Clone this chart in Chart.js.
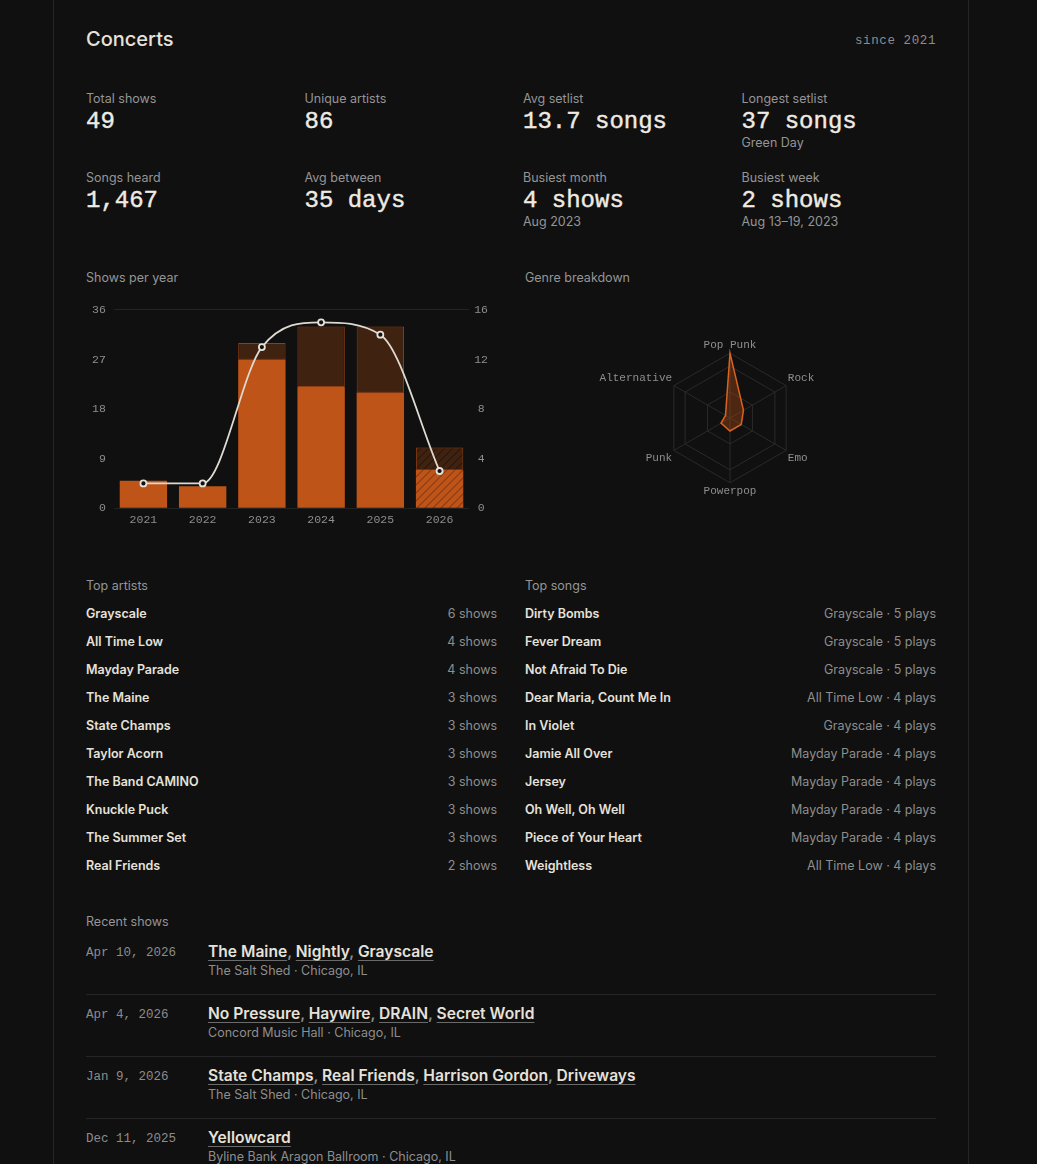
<!DOCTYPE html>
<html lang="en">
<head>
    <meta charset="UTF-8">
    <title>Concerts</title>
    <style>
        body { margin: 0; background: #101010; color: #e6e2da; font-family: Inter, "Noto Sans", sans-serif; }
        .page { margin-left: 53px; width: 850px; padding: 0 32px; border-left: 1px solid #252525; border-right: 1px solid #252525; min-height: 1164px; box-sizing: content-box; }
        .mono { font-family: "Liberation Mono", "DejaVu Sans Mono", monospace; }
        header { display: flex; justify-content: space-between; align-items: center; padding-top: 28px; height: 22px; }
        header h1 { margin: 0; font-size: 20px; font-weight: 500; line-height: 22px; }
        header .since { font-size: 12.5px; letter-spacing: 0.6px; color: #8c8c8c; position: relative; top: 2px; }
        .stats { display: grid; grid-template-columns: repeat(4, 1fr); column-gap: 24px; row-gap: 19px; margin-top: 41px; }
        .stat .lbl { font-size: 12.5px; line-height: 16px; color: #959595; }
        .stat .val { font-size: 24px; line-height: 28px; color: #efebe3; position: relative; top: 1px; -webkit-text-stroke: 0.4px #efebe3; }
        .stat .sub { font-size: 12.5px; line-height: 16px; color: #959595; }
        .two { display: grid; grid-template-columns: 411px 411px; column-gap: 28px; }
        .sec { font-size: 12.5px; line-height: 16px; color: #959595; }
        .charts { margin-top: 40px; }
        .box { position: relative; height: 237px; margin-top: 9px; }
        .box.bars { margin-left: -8px; }
        .lists { margin-top: 46px; }
        .lists .sec { margin-bottom: 6px; }
        .row { display: flex; justify-content: space-between; height: 28px; line-height: 28px; font-size: 12.5px; }
        .row .name { font-weight: 600; color: #e6e2da; }
        .row .meta { color: #8e8e8e; }
        .recent { margin-top: 34px; }
        .recent .sec { margin-bottom: 3px; }
        .show { display: flex; padding: 9px 0 15px; border-bottom: 1px solid #262626; }
        .show:last-child { border-bottom: none; }
        .show .date { width: 122px; font-size: 12.5px; line-height: 22px; color: #8c8c8c; }
        .show .acts { font-size: 15.6px; font-weight: 600; line-height: 20px; color: #8c8c8c; }
        .show .acts span { color: #e6e2da; text-decoration: underline; text-decoration-color: #6a6a6a; text-underline-offset: 3px; text-decoration-thickness: 1px; }
        .show .venue { font-size: 12.5px; line-height: 17px; color: #8e8e8e; }
    </style>
    <script src="https://cdn.jsdelivr.net/npm/chart.js"></script>
</head>
<body>
<div class="page">
    <header>
        <h1>Concerts</h1>
        <span class="since mono">since 2021</span>
    </header>

    <div class="stats" id="stats"></div>

    <div class="two charts">
        <div>
            <div class="sec">Shows per year</div>
            <div class="box bars"><canvas id="graficoAnos"></canvas></div>
        </div>
        <div>
            <div class="sec">Genre breakdown</div>
            <div class="box"><canvas id="graficoGeneros"></canvas></div>
        </div>
    </div>

    <div class="two lists">
        <div id="topArtists"><div class="sec">Top artists</div></div>
        <div id="topSongs"><div class="sec">Top songs</div></div>
    </div>

    <div class="recent" id="recent">
        <div class="sec">Recent shows</div>
    </div>
</div>

<script>
    // dados do gráfico de barras
    const years = ['2021', '2022', '2023', '2024', '2025', '2026'];
    const newArtists = [5, 4, 27, 22, 21, 7];
    const returningArtists = [0, 0, 3, 11, 12, 4];
    const showsPerYear = [2, 2, 13, 15, 14, 3];

    // dados do radar
    const genres = ['Pop Punk', 'Rock', 'Emo', 'Powerpop', 'Punk', 'Alternative'];
    const genreCounts = [25, 6, 5, 5, 4, 2];

    const statLabels = ['Total shows', 'Unique artists', 'Avg setlist', 'Longest setlist',
                        'Songs heard', 'Avg between', 'Busiest month', 'Busiest week'];
    const statValues = ['49', '86', '13.7 songs', '37 songs', '1,467', '35 days', '4 shows', '2 shows'];
    const statSubs = ['', '', '', 'Green Day', '', '', 'Aug 2023', 'Aug 13–19, 2023'];

    const artistNames = ['Grayscale', 'All Time Low', 'Mayday Parade', 'The Maine', 'State Champs',
                         'Taylor Acorn', 'The Band CAMINO', 'Knuckle Puck', 'The Summer Set', 'Real Friends'];
    const artistShows = [6, 4, 4, 3, 3, 3, 3, 3, 3, 2];

    const songNames = ['Dirty Bombs', 'Fever Dream', 'Not Afraid To Die', 'Dear Maria, Count Me In', 'In Violet',
                       'Jamie All Over', 'Jersey', 'Oh Well, Oh Well', 'Piece of Your Heart', 'Weightless'];
    const songArtists = ['Grayscale', 'Grayscale', 'Grayscale', 'All Time Low', 'Grayscale',
                         'Mayday Parade', 'Mayday Parade', 'Mayday Parade', 'Mayday Parade', 'All Time Low'];
    const songPlays = [5, 5, 5, 4, 4, 4, 4, 4, 4, 4];

    const showDates = ['Apr 10, 2026', 'Apr 4, 2026', 'Jan 9, 2026', 'Dec 11, 2025'];
    const showActs = [
        ['The Maine', 'Nightly', 'Grayscale'],
        ['No Pressure', 'Haywire', 'DRAIN', 'Secret World'],
        ['State Champs', 'Real Friends', 'Harrison Gordon', 'Driveways'],
        ['Yellowcard']
    ];
    const showVenues = ['The Salt Shed · Chicago, IL', 'Concord Music Hall · Chicago, IL',
                        'The Salt Shed · Chicago, IL', 'Byline Bank Aragon Ballroom · Chicago, IL'];

    // textos da página
    const stats = document.getElementById('stats');
    statLabels.forEach((l, i) => {
        const d = document.createElement('div');
        d.className = 'stat';
        d.innerHTML = '<div class="lbl">' + l + '</div><div class="val mono">' + statValues[i] + '</div>' +
            (statSubs[i] ? '<div class="sub">' + statSubs[i] + '</div>' : '');
        stats.appendChild(d);
    });

    function addRow(parent, name, meta) {
        const r = document.createElement('div');
        r.className = 'row';
        r.innerHTML = '<span class="name">' + name + '</span><span class="meta">' + meta + '</span>';
        parent.appendChild(r);
    }
    artistNames.forEach((a, i) => addRow(document.getElementById('topArtists'), a, artistShows[i] + ' shows'));
    songNames.forEach((s, i) => addRow(document.getElementById('topSongs'), s, songArtists[i] + ' · ' + songPlays[i] + ' plays'));

    const recent = document.getElementById('recent');
    showDates.forEach((d, i) => {
        const s = document.createElement('div');
        s.className = 'show';
        s.innerHTML = '<div class="date mono">' + d + '</div><div><div class="acts">' +
            showActs[i].map(a => '<span>' + a + '</span>').join(', ') +
            '</div><div class="venue">' + showVenues[i] + '</div></div>';
        recent.appendChild(s);
    });

    // padrão hachurado para o ano corrente
    function hatch(bg, line) {
        const c = document.createElement('canvas');
        c.width = 8; c.height = 8;
        const g = c.getContext('2d');
        g.fillStyle = bg;
        g.fillRect(0, 0, 8, 8);
        g.strokeStyle = line;
        g.lineWidth = 1.2;
        g.beginPath();
        g.moveTo(-2, 10); g.lineTo(10, -2);
        g.moveTo(-2, 2); g.lineTo(2, -2);
        g.moveTo(6, 10); g.lineTo(10, 6);
        g.stroke();
        return g.createPattern(c, 'repeat');
    }

    const orange = '#bf5418';
    const darkBrown = '#3f2210';
    const solidHatch = hatch(orange, '#8e3c11');
    const darkHatch = hatch(darkBrown, '#2c170b');
    const last = years.length - 1;

    const monoFont = { family: '"Liberation Mono", monospace', size: 11.5 };
    const axisGray = '#8e8e8e';

    new Chart(document.getElementById('graficoAnos'), {
        data: {
            labels: years,
            datasets: [
                {
                    type: 'line',
                    label: 'Shows',
                    data: showsPerYear,
                    yAxisID: 'y1',
                    order: 0,
                    borderColor: '#dedad2',
                    borderWidth: 1.8,
                    cubicInterpolationMode: 'monotone',
                    pointRadius: 3,
                    pointBorderWidth: 1.8,
                    pointBackgroundColor: '#111',
                    pointBorderColor: '#e6e2da'
                },
                {
                    type: 'bar',
                    label: 'New artists',
                    data: newArtists,
                    yAxisID: 'y',
                    order: 1,
                    backgroundColor: ctx => ctx.dataIndex === last ? solidHatch : orange,
                    borderWidth: 0
                },
                {
                    type: 'bar',
                    label: 'Returning artists',
                    data: returningArtists,
                    yAxisID: 'y',
                    order: 1,
                    backgroundColor: ctx => ctx.dataIndex === last ? darkHatch : darkBrown,
                    borderColor: '#8f3e13',
                    borderWidth: ctx => returningArtists[ctx.dataIndex] ? 1 : 0,
                    borderSkipped: false
                }
            ]
        },
        options: {
            responsive: true,
            maintainAspectRatio: false,
            animation: false,
            datasets: { bar: { barPercentage: 1, categoryPercentage: 0.8 } },
            layout: { autoPadding: false, padding: { left: 6, right: 4 } },
            plugins: { legend: { display: false }, tooltip: { enabled: false } },
            scales: {
                x: {
                    stacked: true,
                    grid: { display: false, drawTicks: false },
                    border: { display: false },
                    ticks: { color: axisGray, font: monoFont, padding: 5 }
                },
                y: {
                    stacked: true,
                    min: 0, max: 36,
                    grid: {
                        drawTicks: false,
                        color: ctx => (ctx.tick && (ctx.tick.value === 36 || ctx.tick.value === 0)) ? '#232323' : 'transparent'
                    },
                    border: { display: false },
                    ticks: { stepSize: 9, color: axisGray, font: monoFont, padding: 8 }
                },
                y1: {
                    position: 'right',
                    min: 0, max: 16,
                    grid: { display: false, drawTicks: false },
                    border: { display: false },
                    ticks: { stepSize: 4, color: axisGray, font: monoFont, padding: 5, crossAlign: 'center' }
                }
            }
        }
    });

    new Chart(document.getElementById('graficoGeneros'), {
        type: 'radar',
        data: {
            labels: genres,
            datasets: [{
                label: 'Genres',
                data: genreCounts,
                backgroundColor: 'rgba(191, 84, 24, 0.35)',
                borderColor: '#d9621f',
                borderWidth: 1.5,
                pointRadius: 0
            }]
        },
        options: {
            responsive: true,
            maintainAspectRatio: false,
            animation: false,
            layout: { autoPadding: false, padding: { top: 43, bottom: 34 } },
            plugins: { legend: { display: false }, tooltip: { enabled: false } },
            scales: {
                r: {
                    min: 0, max: 25,
                    ticks: { display: false, stepSize: 10 },
                    grid: { color: '#2a2a2a' },
                    angleLines: { color: '#2a2a2a' },
                    pointLabels: { color: axisGray, padding: 2, font: { family: '"Liberation Mono", monospace', size: 11 } }
                }
            }
        }
    });
</script>
</body>
</html>
